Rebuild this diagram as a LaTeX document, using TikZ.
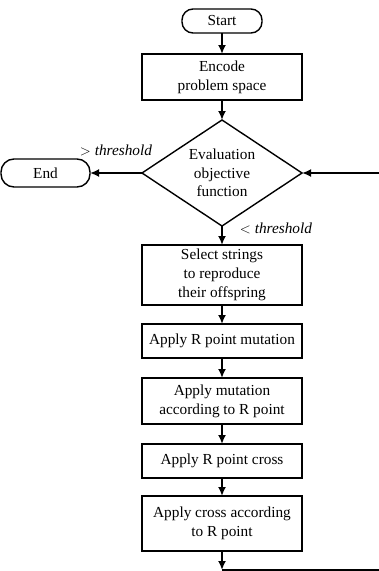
\documentclass[tikz,border=0pt]{standalone}
\usepackage{fontspec}
\setmainfont{Liberation Serif}
\usepackage{tikz}
\usetikzlibrary{shapes.geometric, arrows.meta, positioning}

\begin{document}
\begin{tikzpicture}[x=1pt,y=1pt,
    font=\fontsize{15.3}{18.7}\selectfont,
    term/.style={draw,rounded corners=11pt,line width=1.4pt,outer sep=0pt,minimum width=80pt,minimum height=24pt,inner sep=0pt},
    proc/.style={draw,line width=1.4pt,outer sep=0pt,minimum width=160pt,minimum height=34pt,inner sep=0pt,align=center},
    decide/.style={draw,diamond,aspect=1.5,line width=1.4pt,outer sep=0pt,minimum width=160pt,minimum height=106pt,inner sep=0pt,align=center},
    flow/.style={line width=1.9pt,-{Latex[length=9pt,width=8pt]}},
    node distance=20pt]
    \useasboundingbox (0,0) rectangle (379,-571);
    % Add the steps
        \node[term] (start) at (222,-21) {Start};
        \node[proc,below = 21pt of start,minimum height=46pt] (encode) {Encode\\problem space};
        \node[decide,below = 20pt of encode] (eval) {Evaluation\\objective\\function};
        \node[term,left = 52pt of eval,minimum width=89pt,minimum height=28pt,rounded corners=13pt] (end) {End};
        \node[proc,below = 19pt of eval,minimum height=60pt] (select) {Select strings\\to reproduce\\their offspring};
        \node[proc,below = 19pt of select] (rmut) {Apply R point mutation};
        \node[proc,below = 20pt of rmut,minimum height=46pt] (mut) {Apply mutation\\according to R point};
        \node[proc,below = 20pt of mut] (rcross) {Apply R point cross};
        \node[proc,below = 18pt of rcross,minimum height=55pt] (cross) {Apply cross according\\to R point};

        % Labels of the branches
        \node[font=\fontsize{15.3}{18.7}\selectfont\itshape] (above) at (116,-150) {$>$ threshold};
        \node[font=\fontsize{15.3}{18.7}\selectfont\itshape] (below) at (276,-228) {$<$ threshold};

        % Loop back ends
        \coordinate (corner) at (222,-570);
        \coordinate (loopout) at (380,-570);
        \coordinate (loopin) at (380,-173);

        % Connect the steps with arrows
        \draw[flow] (start) -- (encode);
        \draw[flow] (encode) -- (eval);
        \draw[flow] (eval) -- (end);
        \draw[flow] (eval) -- (select);
        \draw[flow] (select) -- (rmut);
        \draw[flow] (rmut) -- (mut);
        \draw[flow] (mut) -- (rcross);
        \draw[flow] (rcross) -- (cross);
        \draw[flow] (cross) -- (corner);
        \draw[line width=1.6pt] (corner) -- (loopout);
        \draw[flow] (loopin) -- (eval);
    \end{tikzpicture}
\end{document}
